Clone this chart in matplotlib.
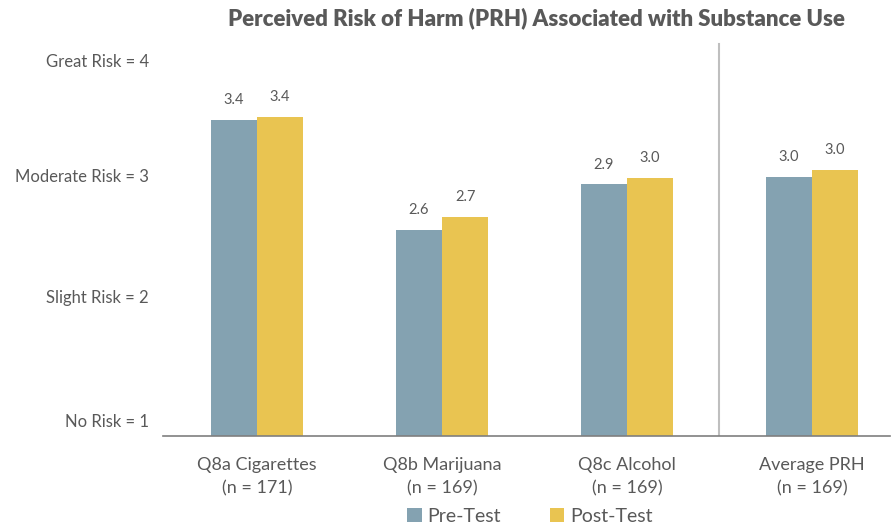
import matplotlib.pyplot as plt
import numpy as np

plt.rcParams['font.family'] = ['Lato', 'DejaVu Sans']

# data
categories = ["Q8a Cigarettes\n(n = 171)", "Q8b Marijuana\n(n = 169)",
              "Q8c Alcohol\n(n = 169)", "Average PRH\n(n = 169)"]
pre_test = [3.45, 2.60, 2.95, 3.01]
post_test = [3.47, 2.70, 3.00, 3.06]
pre_labels = ["3.4", "2.6", "2.9", "3.0"]
post_labels = ["3.4", "2.7", "3.0", "3.0"]
risk_labels = ["No Risk = 1", "Slight Risk = 2", "Moderate Risk = 3", "Great Risk = 4"]

pre_color = "#84A2B1"
post_color = "#E9C451"
text_color = "#595959"

fig = plt.figure(figsize=(8.94, 5.29), dpi=100)
ax = fig.add_axes([163/894, 93/529, 727/894, 396/529])

x = np.arange(len(categories))
w = 0.25
ax.bar(x - w/2, np.array(pre_test) - 1, w, bottom=1, color=pre_color, label="Pre-Test")
ax.bar(x + w/2, np.array(post_test) - 1, w, bottom=1, color=post_color, label="Post-Test")

for i in range(len(x)):
    ax.text(x[i] - w/2, pre_test[i] + 0.1, pre_labels[i], ha='center', va='bottom',
            fontsize=10.5, color=text_color)
    ax.text(x[i] + w/2, post_test[i] + 0.1, post_labels[i], ha='center', va='bottom',
            fontsize=10.5, color=text_color)

ax.set_xlim(-0.508, -0.508 + 727/185)
ax.set_ylim(1, 1 + 396/129)

# separator between questions and average
ax.plot([2.5, 2.5], [1, 4.04], color="#BFBFBF", lw=1.5)

ax.set_yticks([1.12, 2.08, 3.02, 3.91])
ax.set_yticklabels(risk_labels, fontsize=12, color=text_color)
ax.set_xticks(x)
ax.set_xticklabels(categories, fontsize=13, color=text_color, linespacing=1.6)
ax.tick_params(axis='both', length=0)
ax.tick_params(axis='x', pad=15)
ax.tick_params(axis='y', pad=10)

for s in ['top', 'right', 'left']:
    ax.spines[s].set_visible(False)
ax.spines['bottom'].set_color("#7F7F7F")
ax.spines['bottom'].set_linewidth(1.2)

fig.text(536/894, 1 - 18/529, "Perceived Risk of Harm (PRH) Associated with Substance Use",
         ha='center', va='center', fontsize=16, fontweight='heavy', color=text_color)

fig.legend(loc='center', bbox_to_anchor=(530/894, 1 - 516/529), ncol=2, frameon=False,
           fontsize=14, handlelength=0.75, handleheight=0.75, handletextpad=0.3,
           columnspacing=2.5, labelcolor=text_color)

plt.savefig("out.png", dpi=100)
